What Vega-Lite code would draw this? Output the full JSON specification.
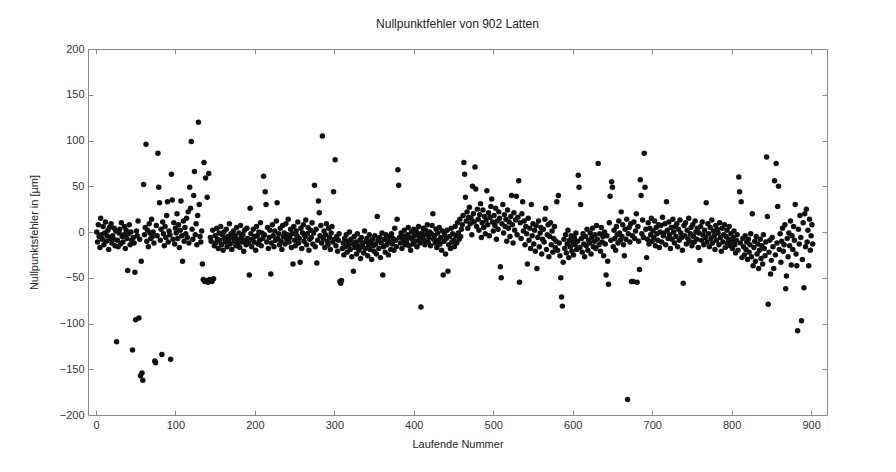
{
"$schema": "https://vega.github.io/schema/vega-lite/v6.json",
"width": 739, "height": 366,
"autosize": {"type": "none"},
"padding": {"left": 88, "top": 49, "right": 69, "bottom": 57},
"background": "white",
"title": {"text": "Nullpunktfehler von 902 Latten", "fontSize": 12, "font": "Liberation Sans", "fontWeight": "normal", "color": "#222", "offset": 12},
"datasets": {"d": [
{"n":1,"v":0},{"n":2,"v":-11},{"n":3,"v":8},{"n":4,"v":-5},{"n":5,"v":-17},{"n":6,"v":15},{"n":7,"v":-3},{"n":8,"v":-8},{"n":9,"v":6},{"n":10,"v":-14},
{"n":11,"v":-1},{"n":12,"v":11},{"n":13,"v":-10},{"n":14,"v":-4},{"n":15,"v":2},{"n":16,"v":-19},{"n":17,"v":5},{"n":18,"v":-7},{"n":19,"v":9},{"n":20,"v":-12},
{"n":21,"v":-4},{"n":22,"v":-8},{"n":23,"v":4},{"n":24,"v":-15},{"n":25,"v":1},{"n":26,"v":-120},{"n":27,"v":-9},{"n":28,"v":-16},{"n":29,"v":-1},{"n":30,"v":3},
{"n":31,"v":-13},{"n":32,"v":10},{"n":33,"v":-5},{"n":34,"v":-11},{"n":35,"v":-3},{"n":36,"v":6},{"n":37,"v":-18},{"n":38,"v":2},{"n":39,"v":-7},{"n":40,"v":-42},
{"n":41,"v":-2},{"n":42,"v":8},{"n":43,"v":-14},{"n":44,"v":0},{"n":45,"v":-9},{"n":46,"v":-129},{"n":47,"v":-6},{"n":48,"v":-12},{"n":49,"v":-44},{"n":50,"v":-96},
{"n":51,"v":1},{"n":52,"v":-4},{"n":53,"v":12},{"n":54,"v":-94},{"n":55,"v":-8},{"n":56,"v":-157},{"n":57,"v":-32},{"n":58,"v":-154},{"n":59,"v":-162},{"n":60,"v":52},
{"n":61,"v":-3},{"n":62,"v":5},{"n":63,"v":96},{"n":64,"v":-10},{"n":65,"v":2},{"n":66,"v":-16},{"n":67,"v":9},{"n":68,"v":-1},{"n":69,"v":-7},{"n":70,"v":14},
{"n":71,"v":-5},{"n":72,"v":0},{"n":73,"v":-12},{"n":74,"v":-141},{"n":75,"v":-143},{"n":76,"v":7},{"n":77,"v":-4},{"n":78,"v":86},{"n":79,"v":49},{"n":80,"v":32},
{"n":81,"v":-9},{"n":82,"v":3},{"n":83,"v":-134},{"n":84,"v":11},{"n":85,"v":-2},{"n":86,"v":-15},{"n":87,"v":6},{"n":88,"v":-6},{"n":89,"v":18},{"n":90,"v":33},
{"n":91,"v":-11},{"n":92,"v":1},{"n":93,"v":-3},{"n":94,"v":-139},{"n":95,"v":63},{"n":96,"v":35},{"n":97,"v":-8},{"n":98,"v":10},{"n":99,"v":-13},{"n":100,"v":4},
{"n":101,"v":-1},{"n":102,"v":20},{"n":103,"v":-7},{"n":104,"v":8},{"n":105,"v":-17},{"n":106,"v":2},{"n":107,"v":34},{"n":108,"v":-4},{"n":109,"v":-32},{"n":110,"v":12},
{"n":111,"v":-10},{"n":112,"v":5},{"n":113,"v":-2},{"n":114,"v":15},{"n":115,"v":-6},{"n":116,"v":22},{"n":117,"v":-12},{"n":118,"v":49},{"n":119,"v":26},{"n":120,"v":99},
{"n":121,"v":3},{"n":122,"v":-8},{"n":123,"v":40},{"n":124,"v":66},{"n":125,"v":-3},{"n":126,"v":9},{"n":127,"v":-14},{"n":128,"v":18},{"n":129,"v":120},{"n":130,"v":30},
{"n":131,"v":-5},{"n":132,"v":-11},{"n":133,"v":1},{"n":134,"v":-35},{"n":135,"v":-52},{"n":136,"v":76},{"n":137,"v":-54},{"n":138,"v":59},{"n":139,"v":-53},{"n":140,"v":38},
{"n":141,"v":-55},{"n":142,"v":64},{"n":143,"v":-52},{"n":144,"v":-6},{"n":145,"v":-10},{"n":146,"v":-54},{"n":147,"v":2},{"n":148,"v":-51},{"n":149,"v":-15},{"n":150,"v":-4},
{"n":151,"v":-12},{"n":152,"v":4},{"n":153,"v":-8},{"n":154,"v":-18},{"n":155,"v":-1},{"n":156,"v":-9},{"n":157,"v":6},{"n":158,"v":-14},{"n":159,"v":-3},{"n":160,"v":-20},
{"n":161,"v":0},{"n":162,"v":-7},{"n":163,"v":-11},{"n":164,"v":3},{"n":165,"v":-16},{"n":166,"v":-5},{"n":167,"v":-9},{"n":168,"v":9},{"n":169,"v":-13},{"n":170,"v":-2},
{"n":171,"v":-19},{"n":172,"v":-6},{"n":173,"v":1},{"n":174,"v":-10},{"n":175,"v":-4},{"n":176,"v":-15},{"n":177,"v":5},{"n":178,"v":-8},{"n":179,"v":-12},{"n":180,"v":-1},
{"n":181,"v":-17},{"n":182,"v":7},{"n":183,"v":-6},{"n":184,"v":-11},{"n":185,"v":-3},{"n":186,"v":-21},{"n":187,"v":2},{"n":188,"v":-9},{"n":189,"v":-14},{"n":190,"v":4},
{"n":191,"v":-7},{"n":192,"v":-12},{"n":193,"v":-47},{"n":194,"v":26},{"n":195,"v":-2},{"n":196,"v":-16},{"n":197,"v":-8},{"n":198,"v":3},{"n":199,"v":-11},{"n":200,"v":-5},
{"n":201,"v":-20},{"n":202,"v":6},{"n":203,"v":-4},{"n":204,"v":-13},{"n":205,"v":0},{"n":206,"v":-9},{"n":207,"v":10},{"n":208,"v":-15},{"n":209,"v":-1},{"n":210,"v":-7},
{"n":211,"v":61},{"n":212,"v":-3},{"n":213,"v":44},{"n":214,"v":30},{"n":215,"v":-11},{"n":216,"v":5},{"n":217,"v":-18},{"n":218,"v":-6},{"n":219,"v":2},{"n":220,"v":-46},
{"n":221,"v":-12},{"n":222,"v":8},{"n":223,"v":-4},{"n":224,"v":-16},{"n":225,"v":1},{"n":226,"v":-9},{"n":227,"v":12},{"n":228,"v":32},{"n":229,"v":-7},{"n":230,"v":-2},
{"n":231,"v":-14},{"n":232,"v":4},{"n":233,"v":-10},{"n":234,"v":-19},{"n":235,"v":7},{"n":236,"v":-5},{"n":237,"v":-1},{"n":238,"v":-13},{"n":239,"v":9},{"n":240,"v":-8},
{"n":241,"v":-3},{"n":242,"v":14},{"n":243,"v":-11},{"n":244,"v":-6},{"n":245,"v":3},{"n":246,"v":-17},{"n":247,"v":-2},{"n":248,"v":-35},{"n":249,"v":6},{"n":250,"v":-9},
{"n":251,"v":-15},{"n":252,"v":1},{"n":253,"v":-4},{"n":254,"v":11},{"n":255,"v":-12},{"n":256,"v":-7},{"n":257,"v":-33},{"n":258,"v":4},{"n":259,"v":-18},{"n":260,"v":-1},
{"n":261,"v":8},{"n":262,"v":-10},{"n":263,"v":-5},{"n":264,"v":13},{"n":265,"v":-14},{"n":266,"v":-2},{"n":267,"v":5},{"n":268,"v":-20},{"n":269,"v":-8},{"n":270,"v":2},
{"n":271,"v":-6},{"n":272,"v":10},{"n":273,"v":-13},{"n":274,"v":-1},{"n":275,"v":51},{"n":276,"v":-16},{"n":277,"v":3},{"n":278,"v":-34},{"n":279,"v":-9},{"n":280,"v":34},
{"n":281,"v":21},{"n":282,"v":-4},{"n":283,"v":7},{"n":284,"v":-12},{"n":285,"v":105},{"n":286,"v":-7},{"n":287,"v":1},{"n":288,"v":-17},{"n":289,"v":-3},{"n":290,"v":9},
{"n":291,"v":-10},{"n":292,"v":-14},{"n":293,"v":4},{"n":294,"v":-6},{"n":295,"v":-19},{"n":296,"v":-1},{"n":297,"v":6},{"n":298,"v":-11},{"n":299,"v":44},{"n":300,"v":-8},
{"n":301,"v":79},{"n":302,"v":-15},{"n":303,"v":-5},{"n":304,"v":-21},{"n":305,"v":-9},{"n":306,"v":-2},{"n":307,"v":-54},{"n":308,"v":-56},{"n":309,"v":-53},{"n":310,"v":-18},
{"n":311,"v":-12},{"n":312,"v":-25},{"n":313,"v":-7},{"n":314,"v":-16},{"n":315,"v":-3},{"n":316,"v":-22},{"n":317,"v":-10},{"n":318,"v":-14},{"n":319,"v":0},{"n":320,"v":-19},
{"n":321,"v":-8},{"n":322,"v":-27},{"n":323,"v":-13},{"n":324,"v":-43},{"n":325,"v":-5},{"n":326,"v":-17},{"n":327,"v":-11},{"n":328,"v":-24},{"n":329,"v":-2},{"n":330,"v":-15},
{"n":331,"v":-20},{"n":332,"v":-9},{"n":333,"v":-29},{"n":334,"v":-6},{"n":335,"v":-16},{"n":336,"v":-12},{"n":337,"v":-23},{"n":338,"v":1},{"n":339,"v":-18},{"n":340,"v":-10},
{"n":341,"v":-7},{"n":342,"v":-26},{"n":343,"v":-14},{"n":344,"v":-3},{"n":345,"v":-19},{"n":346,"v":-11},{"n":347,"v":-30},{"n":348,"v":-8},{"n":349,"v":-15},{"n":350,"v":-21},
{"n":351,"v":-4},{"n":352,"v":-13},{"n":353,"v":-24},{"n":354,"v":17},{"n":355,"v":-9},{"n":356,"v":-18},{"n":357,"v":-6},{"n":358,"v":-28},{"n":359,"v":-12},{"n":360,"v":-1},
{"n":361,"v":-47},{"n":362,"v":-16},{"n":363,"v":-8},{"n":364,"v":-22},{"n":365,"v":-3},{"n":366,"v":-14},{"n":367,"v":-10},{"n":368,"v":-25},{"n":369,"v":-5},{"n":370,"v":-11},
{"n":371,"v":-19},{"n":372,"v":-2},{"n":373,"v":-13},{"n":374,"v":-7},{"n":375,"v":-20},{"n":376,"v":4},{"n":377,"v":-9},{"n":378,"v":-16},{"n":379,"v":14},{"n":380,"v":68},
{"n":381,"v":51},{"n":382,"v":-6},{"n":383,"v":-12},{"n":384,"v":-1},{"n":385,"v":-18},{"n":386,"v":-4},{"n":387,"v":-9},{"n":388,"v":2},{"n":389,"v":-14},{"n":390,"v":-7},
{"n":391,"v":-11},{"n":392,"v":-3},{"n":393,"v":5},{"n":394,"v":-15},{"n":395,"v":-6},{"n":396,"v":-20},{"n":397,"v":0},{"n":398,"v":-8},{"n":399,"v":-13},{"n":400,"v":3},
{"n":401,"v":-4},{"n":402,"v":-10},{"n":403,"v":1},{"n":404,"v":-16},{"n":405,"v":-2},{"n":406,"v":6},{"n":407,"v":-7},{"n":408,"v":-12},{"n":409,"v":-82},{"n":410,"v":-1},
{"n":411,"v":-5},{"n":412,"v":4},{"n":413,"v":-9},{"n":414,"v":-14},{"n":415,"v":2},{"n":416,"v":-3},{"n":417,"v":8},{"n":418,"v":-11},{"n":419,"v":-6},{"n":420,"v":0},
{"n":421,"v":-15},{"n":422,"v":-2},{"n":423,"v":7},{"n":424,"v":20},{"n":425,"v":-8},{"n":426,"v":-4},{"n":427,"v":-12},{"n":428,"v":3},{"n":429,"v":-17},{"n":430,"v":-1},
{"n":431,"v":-9},{"n":432,"v":5},{"n":433,"v":-13},{"n":434,"v":-6},{"n":435,"v":-20},{"n":436,"v":1},{"n":437,"v":-47},{"n":438,"v":-10},{"n":439,"v":-3},{"n":440,"v":-24},
{"n":441,"v":-7},{"n":442,"v":2},{"n":443,"v":-43},{"n":444,"v":-14},{"n":445,"v":-5},{"n":446,"v":-18},{"n":447,"v":4},{"n":448,"v":-11},{"n":449,"v":-2},{"n":450,"v":-9},
{"n":451,"v":-16},{"n":452,"v":6},{"n":453,"v":-4},{"n":454,"v":-12},{"n":455,"v":10},{"n":456,"v":-1},{"n":457,"v":-8},{"n":458,"v":14},{"n":459,"v":-5},{"n":460,"v":3},
{"n":461,"v":8},{"n":462,"v":18},{"n":463,"v":76},{"n":464,"v":63},{"n":465,"v":38},{"n":466,"v":12},{"n":467,"v":22},{"n":468,"v":4},{"n":469,"v":16},{"n":470,"v":27},
{"n":471,"v":9},{"n":472,"v":15},{"n":473,"v":-3},{"n":474,"v":50},{"n":475,"v":20},{"n":476,"v":11},{"n":477,"v":71},{"n":478,"v":47},{"n":479,"v":6},{"n":480,"v":25},
{"n":481,"v":14},{"n":482,"v":2},{"n":483,"v":19},{"n":484,"v":31},{"n":485,"v":-6},{"n":486,"v":10},{"n":487,"v":24},{"n":488,"v":5},{"n":489,"v":17},{"n":490,"v":-2},
{"n":491,"v":13},{"n":492,"v":45},{"n":493,"v":8},{"n":494,"v":21},{"n":495,"v":-4},{"n":496,"v":16},{"n":497,"v":28},{"n":498,"v":36},{"n":499,"v":11},{"n":500,"v":1},
{"n":501,"v":18},{"n":502,"v":7},{"n":503,"v":26},{"n":504,"v":-8},{"n":505,"v":12},{"n":506,"v":3},{"n":507,"v":22},{"n":508,"v":15},{"n":509,"v":-38},{"n":510,"v":-50},
{"n":511,"v":9},{"n":512,"v":30},{"n":513,"v":-1},{"n":514,"v":19},{"n":515,"v":6},{"n":516,"v":14},{"n":517,"v":-10},{"n":518,"v":24},{"n":519,"v":4},{"n":520,"v":11},
{"n":521,"v":-5},{"n":522,"v":17},{"n":523,"v":40},{"n":524,"v":8},{"n":525,"v":-12},{"n":526,"v":21},{"n":527,"v":2},{"n":528,"v":13},{"n":529,"v":39},{"n":530,"v":-3},
{"n":531,"v":16},{"n":532,"v":56},{"n":533,"v":-55},{"n":534,"v":10},{"n":535,"v":-7},{"n":536,"v":20},{"n":537,"v":33},{"n":538,"v":1},{"n":539,"v":12},{"n":540,"v":-14},
{"n":541,"v":6},{"n":542,"v":-2},{"n":543,"v":-35},{"n":544,"v":15},{"n":545,"v":-9},{"n":546,"v":4},{"n":547,"v":-18},{"n":548,"v":30},{"n":549,"v":-4},{"n":550,"v":9},
{"n":551,"v":-13},{"n":552,"v":2},{"n":553,"v":-21},{"n":554,"v":7},{"n":555,"v":-40},{"n":556,"v":-6},{"n":557,"v":12},{"n":558,"v":-16},{"n":559,"v":-1},{"n":560,"v":5},
{"n":561,"v":-24},{"n":562,"v":-8},{"n":563,"v":3},{"n":564,"v":-11},{"n":565,"v":14},{"n":566,"v":26},{"n":567,"v":-19},{"n":568,"v":-3},{"n":569,"v":8},{"n":570,"v":-27},
{"n":571,"v":-5},{"n":572,"v":10},{"n":573,"v":-14},{"n":574,"v":1},{"n":575,"v":-22},{"n":576,"v":-7},{"n":577,"v":6},{"n":578,"v":-17},{"n":579,"v":-10},{"n":580,"v":33},
{"n":581,"v":-20},{"n":582,"v":40},{"n":583,"v":-12},{"n":584,"v":-26},{"n":585,"v":-50},{"n":586,"v":-71},{"n":587,"v":-81},{"n":588,"v":-33},{"n":589,"v":-8},{"n":590,"v":-18},
{"n":591,"v":-3},{"n":592,"v":-23},{"n":593,"v":-13},{"n":594,"v":2},{"n":595,"v":-28},{"n":596,"v":-9},{"n":597,"v":-16},{"n":598,"v":-4},{"n":599,"v":-21},{"n":600,"v":-11},
{"n":601,"v":-25},{"n":602,"v":-6},{"n":603,"v":-14},{"n":604,"v":-1},{"n":605,"v":-19},{"n":606,"v":-10},{"n":607,"v":62},{"n":608,"v":49},{"n":609,"v":-17},{"n":610,"v":30},
{"n":611,"v":-7},{"n":612,"v":-22},{"n":613,"v":-2},{"n":614,"v":-13},{"n":615,"v":-27},{"n":616,"v":-5},{"n":617,"v":-15},{"n":618,"v":3},{"n":619,"v":-20},{"n":620,"v":-9},
{"n":621,"v":-12},{"n":622,"v":-1},{"n":623,"v":-24},{"n":624,"v":-6},{"n":625,"v":4},{"n":626,"v":-16},{"n":627,"v":-10},{"n":628,"v":-3},{"n":629,"v":-18},{"n":630,"v":7},
{"n":631,"v":-8},{"n":632,"v":75},{"n":633,"v":-14},{"n":634,"v":-2},{"n":635,"v":-21},{"n":636,"v":5},{"n":637,"v":-11},{"n":638,"v":-5},{"n":639,"v":-26},{"n":640,"v":0},
{"n":641,"v":-13},{"n":642,"v":-47},{"n":643,"v":-4},{"n":644,"v":-32},{"n":645,"v":-57},{"n":646,"v":10},{"n":647,"v":39},{"n":648,"v":-9},{"n":649,"v":55},{"n":650,"v":49},
{"n":651,"v":-16},{"n":652,"v":2},{"n":653,"v":-7},{"n":654,"v":-20},{"n":655,"v":6},{"n":656,"v":-3},{"n":657,"v":-12},{"n":658,"v":12},{"n":659,"v":-1},{"n":660,"v":-9},
{"n":661,"v":22},{"n":662,"v":-5},{"n":663,"v":8},{"n":664,"v":-14},{"n":665,"v":-26},{"n":666,"v":3},{"n":667,"v":-8},{"n":668,"v":14},{"n":669,"v":-183},{"n":670,"v":-2},
{"n":671,"v":5},{"n":672,"v":-11},{"n":673,"v":9},{"n":674,"v":-54},{"n":675,"v":-4},{"n":676,"v":-54},{"n":677,"v":11},{"n":678,"v":-7},{"n":679,"v":1},{"n":680,"v":20},
{"n":681,"v":-55},{"n":682,"v":6},{"n":683,"v":-10},{"n":684,"v":-41},{"n":685,"v":57},{"n":686,"v":40},{"n":687,"v":-2},{"n":688,"v":13},{"n":689,"v":-6},{"n":690,"v":86},
{"n":691,"v":49},{"n":692,"v":3},{"n":693,"v":-28},{"n":694,"v":-8},{"n":695,"v":10},{"n":696,"v":-13},{"n":697,"v":4},{"n":698,"v":-3},{"n":699,"v":15},{"n":700,"v":-10},
{"n":701,"v":1},{"n":702,"v":-6},{"n":703,"v":12},{"n":704,"v":-15},{"n":705,"v":5},{"n":706,"v":-2},{"n":707,"v":-9},{"n":708,"v":8},{"n":709,"v":-17},{"n":710,"v":0},
{"n":711,"v":7},{"n":712,"v":-11},{"n":713,"v":16},{"n":714,"v":-4},{"n":715,"v":-1},{"n":716,"v":9},{"n":717,"v":-14},{"n":718,"v":33},{"n":719,"v":2},{"n":720,"v":-7},
{"n":721,"v":11},{"n":722,"v":-3},{"n":723,"v":-18},{"n":724,"v":5},{"n":725,"v":-8},{"n":726,"v":14},{"n":727,"v":0},{"n":728,"v":-12},{"n":729,"v":6},{"n":730,"v":-5},
{"n":731,"v":9},{"n":732,"v":-16},{"n":733,"v":3},{"n":734,"v":-9},{"n":735,"v":13},{"n":736,"v":-1},{"n":737,"v":-6},{"n":738,"v":-20},{"n":739,"v":-56},{"n":740,"v":7},
{"n":741,"v":-4},{"n":742,"v":10},{"n":743,"v":-13},{"n":744,"v":2},{"n":745,"v":-7},{"n":746,"v":15},{"n":747,"v":-10},{"n":748,"v":-2},{"n":749,"v":5},{"n":750,"v":-15},
{"n":751,"v":8},{"n":752,"v":-5},{"n":753,"v":-11},{"n":754,"v":12},{"n":755,"v":0},{"n":756,"v":-8},{"n":757,"v":4},{"n":758,"v":-17},{"n":759,"v":-1},{"n":760,"v":-31},
{"n":761,"v":6},{"n":762,"v":-9},{"n":763,"v":11},{"n":764,"v":-3},{"n":765,"v":-14},{"n":766,"v":2},{"n":767,"v":-6},{"n":768,"v":32},{"n":769,"v":-11},{"n":770,"v":9},
{"n":771,"v":-2},{"n":772,"v":-16},{"n":773,"v":5},{"n":774,"v":-7},{"n":775,"v":13},{"n":776,"v":-12},{"n":777,"v":1},{"n":778,"v":-4},{"n":779,"v":-19},{"n":780,"v":7},
{"n":781,"v":-9},{"n":782,"v":3},{"n":783,"v":-1},{"n":784,"v":-14},{"n":785,"v":10},{"n":786,"v":-6},{"n":787,"v":-21},{"n":788,"v":4},{"n":789,"v":-11},{"n":790,"v":-3},
{"n":791,"v":8},{"n":792,"v":-17},{"n":793,"v":-5},{"n":794,"v":2},{"n":795,"v":-12},{"n":796,"v":-8},{"n":797,"v":6},{"n":798,"v":-15},{"n":799,"v":-2},{"n":800,"v":-10},
{"n":801,"v":-18},{"n":802,"v":-6},{"n":803,"v":1},{"n":804,"v":-14},{"n":805,"v":-23},{"n":806,"v":-9},{"n":807,"v":-3},{"n":808,"v":-20},{"n":809,"v":60},{"n":810,"v":44},
{"n":811,"v":-12},{"n":812,"v":33},{"n":813,"v":-28},{"n":814,"v":-7},{"n":815,"v":-16},{"n":816,"v":-25},{"n":817,"v":-4},{"n":818,"v":-19},{"n":819,"v":-11},{"n":820,"v":-30},
{"n":821,"v":-8},{"n":822,"v":-22},{"n":823,"v":-14},{"n":824,"v":-2},{"n":825,"v":-27},{"n":826,"v":20},{"n":827,"v":-37},{"n":828,"v":-17},{"n":829,"v":-10},{"n":830,"v":-32},
{"n":831,"v":-5},{"n":832,"v":-24},{"n":833,"v":-13},{"n":834,"v":-40},{"n":835,"v":-20},{"n":836,"v":-8},{"n":837,"v":-29},{"n":838,"v":-15},{"n":839,"v":-35},{"n":840,"v":-3},
{"n":841,"v":-18},{"n":842,"v":-26},{"n":843,"v":-11},{"n":844,"v":82},{"n":845,"v":17},{"n":846,"v":-79},{"n":847,"v":-22},{"n":848,"v":-9},{"n":849,"v":-46},{"n":850,"v":-31},
{"n":851,"v":-6},{"n":852,"v":-16},{"n":853,"v":-40},{"n":854,"v":56},{"n":855,"v":-25},{"n":856,"v":75},{"n":857,"v":-12},{"n":858,"v":28},{"n":859,"v":50},{"n":860,"v":-19},
{"n":861,"v":-2},{"n":862,"v":-33},{"n":863,"v":-10},{"n":864,"v":4},{"n":865,"v":-21},{"n":866,"v":-14},{"n":867,"v":8},{"n":868,"v":-62},{"n":869,"v":-48},{"n":870,"v":-7},
{"n":871,"v":-27},{"n":872,"v":-1},{"n":873,"v":-15},{"n":874,"v":12},{"n":875,"v":-36},{"n":876,"v":-4},{"n":877,"v":-19},{"n":878,"v":6},{"n":879,"v":-9},{"n":880,"v":30},
{"n":881,"v":-24},{"n":882,"v":-37},{"n":883,"v":-108},{"n":884,"v":3},{"n":885,"v":-13},{"n":886,"v":18},{"n":887,"v":-6},{"n":888,"v":-97},{"n":889,"v":-30},{"n":890,"v":10},
{"n":891,"v":-61},{"n":892,"v":20},{"n":893,"v":-16},{"n":894,"v":25},{"n":895,"v":-11},{"n":896,"v":2},{"n":897,"v":-37},{"n":898,"v":14},{"n":899,"v":-20},{"n":900,"v":-4},
{"n":901,"v":8},{"n":902,"v":-13}
]},
"data": {"name": "d"},
"layer": [
{
"mark": {"type": "point", "filled": true, "size": 30, "color": "#111", "opacity": 1},
"encoding": {
"x": {"field": "n", "type": "quantitative", "scale": {"domain": [-10, 920], "nice": false, "zero": false},
"axis": {"orient": "bottom", "values": [0,100,200,300,400,500,600,700,800,900], "title": "Laufende Nummer", "titlePadding": 8}},
"y": {"field": "v", "type": "quantitative", "scale": {"domain": [-200, 200], "nice": false, "zero": false},
"axis": {"orient": "left", "values": [-200,-150,-100,-50,0,50,100,150,200], "title": "Nullpunktsfehler in [µm]", "titlePadding": 20}}
}
},
{
"mark": {"type": "point", "opacity": 0},
"encoding": {
"x": {"field": "n", "type": "quantitative", "axis": {"orient": "top", "values": [0,100,200,300,400,500,600,700,800,900], "labels": false, "title": null}},
"y": {"field": "v", "type": "quantitative", "axis": {"orient": "right", "values": [-200,-150,-100,-50,0,50,100,150,200], "labels": false, "title": null}}
}
}
],
"resolve": {"axis": {"x": "independent", "y": "independent"}},
"config": {
"view": {"stroke": "#8a8a8a", "strokeWidth": 1},
"axis": {"domain": false, "grid": false, "ticks": true, "tickSize": -5, "tickColor": "#8a8a8a", "labelPadding": 9, "labelFont": "Liberation Sans", "labelFontSize": 11, "labelColor": "#333", "titleFont": "Liberation Sans", "titleFontSize": 11, "titleFontWeight": "normal", "titleColor": "#222"}
}
}
